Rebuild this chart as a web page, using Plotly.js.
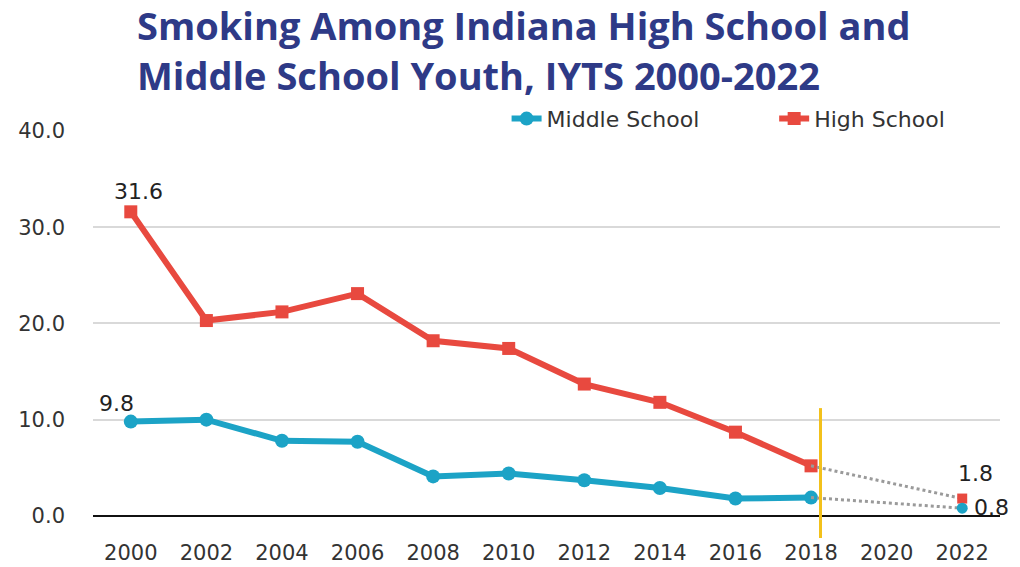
<!DOCTYPE html>
<html>
<head>
<meta charset="utf-8">
<script src="https://cdn.plot.ly/plotly-3.0.1.min.js"></script>
<style>html,body{margin:0;padding:0;background:#fff}#chart{width:1020px;height:567px}</style>
</head>
<body>
<div id="chart"></div>
<script>
// Data
const years = [2000, 2002, 2004, 2006, 2008, 2010, 2012, 2014, 2016, 2018];
const middleSchool = [9.8, 10.0, 7.8, 7.7, 4.1, 4.4, 3.7, 2.9, 1.8, 1.9];
const highSchool = [31.6, 20.3, 21.2, 23.1, 18.2, 17.4, 13.7, 11.8, 8.7, 5.2];
const year2022 = 2022;
const middleSchool2022 = 0.8;
const highSchool2022 = 1.8;
const tickYears = [2000, 2002, 2004, 2006, 2008, 2010, 2012, 2014, 2016, 2018, 2020, 2022];
const yTicks = [0, 10, 20, 30, 40];
const titleLines = ['Smoking Among Indiana High School and', 'Middle School Youth, IYTS 2000-2022'];
const dividerYear = 2018.25;
const dividerTop = 11.2;

const teal = '#1CA3C6';
const red = '#E8493F';
const last = years.length - 1;
const FONT = 'DejaVu Sans, sans-serif';

const traces = [
  { x: years, y: middleSchool, name: 'Middle School', mode: 'lines+markers', legend: 'legend',
    line: {color: teal, width: 6}, marker: {symbol: 'circle', size: 14, color: teal} },
  { x: years, y: highSchool, name: 'High School', mode: 'lines+markers', legend: 'legend2',
    line: {color: red, width: 6}, marker: {symbol: 'square', size: 13, color: red} },
  { x: [years[last], year2022], y: [highSchool[last], highSchool2022], mode: 'lines', showlegend: false,
    line: {color: '#9a9a9a', width: 3, dash: 'dot'} },
  { x: [years[last], year2022], y: [middleSchool[last], middleSchool2022], mode: 'lines', showlegend: false,
    line: {color: '#9a9a9a', width: 3, dash: 'dot'} },
  { x: [year2022], y: [highSchool2022], mode: 'markers', showlegend: false,
    marker: {symbol: 'square', size: 10, color: red} },
  { x: [year2022], y: [middleSchool2022], mode: 'markers', showlegend: false,
    marker: {symbol: 'circle', size: 11, color: teal} }
];

const lblFont = {family: FONT, size: 22, color: '#222'};
const titleFont = {family: 'Open Sans, sans-serif', size: 38, color: '#2E3A87', weight: 700};
const legFont = {family: FONT, size: 22, color: '#333'};
const layout = {
  width: 1020, height: 567,
  margin: {l: 93, r: 20, t: 131, b: 29},
  paper_bgcolor: '#fff', plot_bgcolor: '#fff',
  xaxis: {
    range: [1999, 2023], tickvals: tickYears, ticktext: tickYears.map(String),
    showgrid: false, zeroline: false, showline: false, ticks: '',
    tickfont: {family: FONT, size: 21, color: '#333'},
    automargin: false, fixedrange: true
  },
  yaxis: {
    range: [-2.3, 40], tickvals: yTicks, ticktext: yTicks.map(v => v.toFixed(1)),
    showgrid: true, gridcolor: '#d9d9d9', gridwidth: 2,
    zeroline: true, zerolinecolor: '#111', zerolinewidth: 2,
    showline: false, ticks: '', ticklabelstandoff: 27,
    tickfont: {family: FONT, size: 21, color: '#333'},
    automargin: false, fixedrange: true
  },
  legend: {
    orientation: 'h', x: 0.456, xanchor: 'left', y: 1.03, yanchor: 'middle',
    font: legFont, bgcolor: 'rgba(0,0,0,0)'
  },
  legend2: {
    orientation: 'h', x: 0.751, xanchor: 'left', y: 1.03, yanchor: 'middle',
    font: legFont, bgcolor: 'rgba(0,0,0,0)'
  },
  shapes: [
    { type: 'line', xref: 'x', yref: 'y', x0: dividerYear, x1: dividerYear, y0: -2.3, y1: dividerTop,
      line: {color: '#F3C11B', width: 3} }
  ],
  annotations: [
    { xref: 'paper', yref: 'paper', x: 0.0463, y: 1.2604, xanchor: 'left', yanchor: 'middle',
      text: '<b>' + titleLines[0] + '</b>', showarrow: false, font: titleFont },
    { xref: 'paper', yref: 'paper', x: 0.0463, y: 1.1376, xanchor: 'left', yanchor: 'middle',
      text: '<b>' + titleLines[1] + '</b>', showarrow: false, font: titleFont },
    { x: years[0], y: highSchool[0], text: highSchool[0].toFixed(1), showarrow: false, yshift: 20, xshift: 8, font: lblFont },
    { x: years[0], y: middleSchool[0], text: middleSchool[0].toFixed(1), showarrow: false, yshift: 18, xshift: -14, font: lblFont },
    { x: year2022, y: highSchool2022, text: highSchool2022.toFixed(1), showarrow: false, yshift: 25, xshift: 13, font: lblFont },
    { x: year2022, y: middleSchool2022, text: middleSchool2022.toFixed(1), showarrow: false, yshift: 1, xshift: 29, font: lblFont }
  ]
};

Plotly.newPlot('chart', traces, layout, {displayModeBar: false, staticPlot: true});
</script>
</body>
</html>
